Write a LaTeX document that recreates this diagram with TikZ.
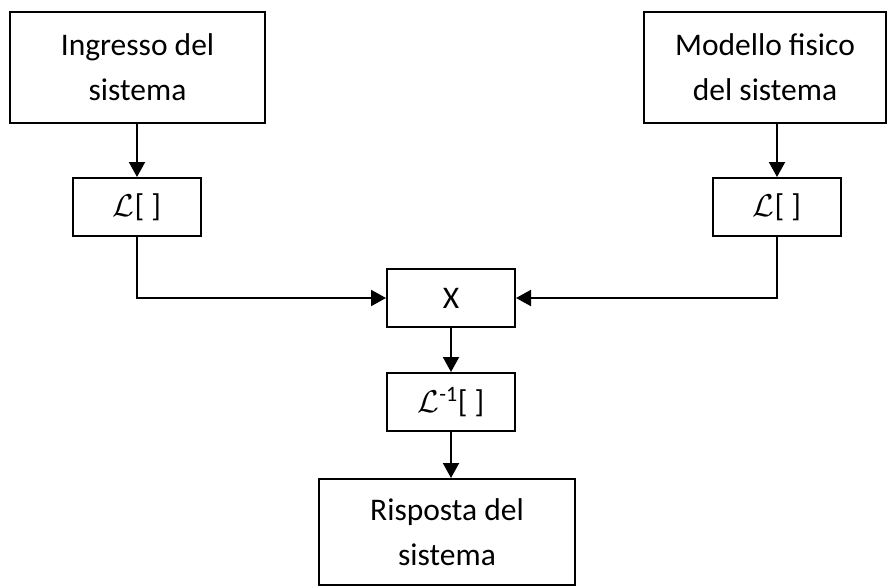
\RequirePackage{fix-cm}
\documentclass[tikz,border=0pt]{standalone}
\usepackage{fontspec}
\setmainfont{Carlito}
\usetikzlibrary{arrows.meta}
\begin{document}
\begin{tikzpicture}[x=1pt,y=-1pt,
  blk/.style={draw, line width=2pt, inner sep=0pt, align=center,
    font=\fontsize{31.5}{45}\selectfont},
  arr/.style={line width=2pt, -{Triangle[length=15pt,width=16pt]}}]
\useasboundingbox (0,0) rectangle (888,586);
\node[blk, minimum width=255pt, minimum height=111pt] (ing) at (137.5,67.5) {Ingresso del\\sistema};
\node[blk, minimum width=242pt, minimum height=111pt] (mod) at (765,67.5) {Modello fisico\\del sistema};
\node[blk, minimum width=128pt, minimum height=58pt] (ll) at (137,207) {$\mathcal{L}$[ ]};
\node[blk, minimum width=128pt, minimum height=58pt] (lr) at (777,207) {$\mathcal{L}$[ ]};
\node[blk, minimum width=128pt, minimum height=58pt] (x) at (451,298) {X};
\node[blk, minimum width=128pt, minimum height=58pt] (li) at (451,402) {$\mathcal{L}$\textsuperscript{-1}[ ]};
\node[blk, minimum width=256pt, minimum height=106pt] (ris) at (447,532) {Risposta del\\sistema};
\draw[arr] (ing.south -| ll.north) -- (ll.north);
\draw[arr] (mod.south -| lr.north) -- (lr.north);
\draw[arr] (ll.south) |- (x.west);
\draw[arr] (lr.south) |- (x.east);
\draw[arr] (x.south) -- (x.south |- li.north);
\draw[arr] (li.south) -- (li.south |- ris.north);
\end{tikzpicture}
\end{document}
